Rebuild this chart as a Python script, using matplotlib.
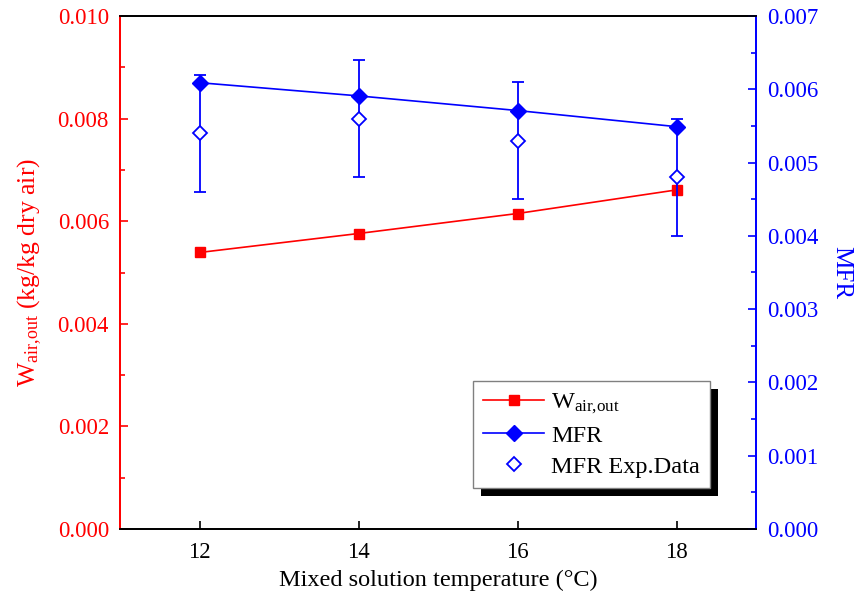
import matplotlib
matplotlib.use("Agg")
import matplotlib.pyplot as plt
from matplotlib.patches import Rectangle
from matplotlib.transforms import IdentityTransform
from matplotlib.ticker import MultipleLocator, AutoMinorLocator, FormatStrFormatter

plt.rcParams['font.family'] = ['Liberation Serif', 'DejaVu Serif']
plt.rcParams['mathtext.fontset'] = 'custom'
plt.rcParams['mathtext.rm'] = 'Liberation Serif'
plt.rcParams['mathtext.it'] = 'Liberation Serif:italic'

temperature = [12, 14, 16, 18]
w_air_out = [0.00539, 0.00576, 0.00615, 0.00661]
mfr_model = [0.00609, 0.00591, 0.00571, 0.00549]
mfr_exp = [0.0054, 0.0056, 0.0053, 0.0048]
mfr_exp_err = [0.0008, 0.0008, 0.0008, 0.0008]

RED = '#ff0000'
BLUE = '#0000ff'
W_LABEL = r'W$_{\mathrm{air{,}out}}$'

fig = plt.figure(figsize=(8.61, 5.97), dpi=100)
ax = fig.add_axes([120 / 861, 1 - 529 / 597, 636 / 861, 513 / 597])
ax2 = ax.twinx()

l1, = ax.plot(temperature, w_air_out, color=RED, lw=1.2, marker='s', ms=6.5,
              label=W_LABEL)
l2, = ax2.plot(temperature, mfr_model, color=BLUE, lw=1.2, marker='D', ms=8,
               label='MFR')
eb = ax2.errorbar(temperature, mfr_exp, yerr=mfr_exp_err, fmt='D', ms=7.5,
                  mfc='white', mec=BLUE, mew=1.3, ecolor=BLUE, elinewidth=1.3,
                  capsize=4, capthick=1.3, label='MFR Exp.Data')

ax.set_xlim(11, 19)
ax.set_ylim(0, 0.010)
ax2.set_ylim(0, 0.007)
ax.xaxis.set_major_locator(MultipleLocator(2))
ax.yaxis.set_major_locator(MultipleLocator(0.002))
ax.yaxis.set_minor_locator(AutoMinorLocator(2))
ax2.yaxis.set_major_locator(MultipleLocator(0.001))
ax2.yaxis.set_minor_locator(AutoMinorLocator(2))
ax.yaxis.set_major_formatter(FormatStrFormatter('%.3f'))
ax2.yaxis.set_major_formatter(FormatStrFormatter('%.3f'))

for a in (ax, ax2):
    for s in a.spines.values():
        s.set_linewidth(1.3)
    a.spines['top'].set_color('black')
    a.spines['bottom'].set_color('black')
    a.spines['left'].set_color(RED)
    a.spines['right'].set_color(BLUE)

TICK_FS = 16.5
ax.tick_params(axis='x', which='both', direction='in', length=6, width=1.2,
               labelsize=TICK_FS, pad=9, top=False, colors='black')
ax.tick_params(axis='y', which='major', direction='in', length=6, width=1.2,
               labelsize=TICK_FS, pad=8, colors=RED, right=False)
ax.tick_params(axis='y', which='minor', direction='in', length=3.5, width=1.2,
               colors=RED, right=False)
ax2.tick_params(axis='y', which='major', direction='in', length=6, width=1.2,
                labelsize=TICK_FS, pad=8, colors=BLUE)
ax2.tick_params(axis='y', which='minor', direction='in', length=3.5, width=1.2,
                colors=BLUE)

ax.set_xlabel('Mixed solution temperature (°C)', fontsize=17.5, labelpad=5)
ax.set_ylabel(W_LABEL + ' (kg/kg dry air)', fontsize=18.5, color=RED,
              labelpad=10)
ax2.set_ylabel('MFR', fontsize=18, color=BLUE, rotation=-90, labelpad=24)

handles = [l1, l2, eb[0]]
labels = [W_LABEL, 'MFR', 'MFR Exp.Data']
leg = ax2.legend(handles, labels, loc='lower left',
                 bbox_to_anchor=(0.555, 0.08), fontsize=17.5, fancybox=False,
                 framealpha=1, edgecolor='#808080', handlelength=2.5,
                 borderpad=0.42, labelspacing=0.36, handletextpad=0.3,
                 borderaxespad=0)
leg.get_frame().set_linewidth(1.0)
leg.set_zorder(10)

fig.canvas.draw()
bb = leg.get_window_extent()
shadow = Rectangle((bb.x0 + 8, bb.y0 - 8), bb.width, bb.height,
                   transform=IdentityTransform(), facecolor='black',
                   edgecolor='none', zorder=9, clip_on=False)
ax2.add_artist(shadow)

fig.savefig('out.png', dpi=100)
